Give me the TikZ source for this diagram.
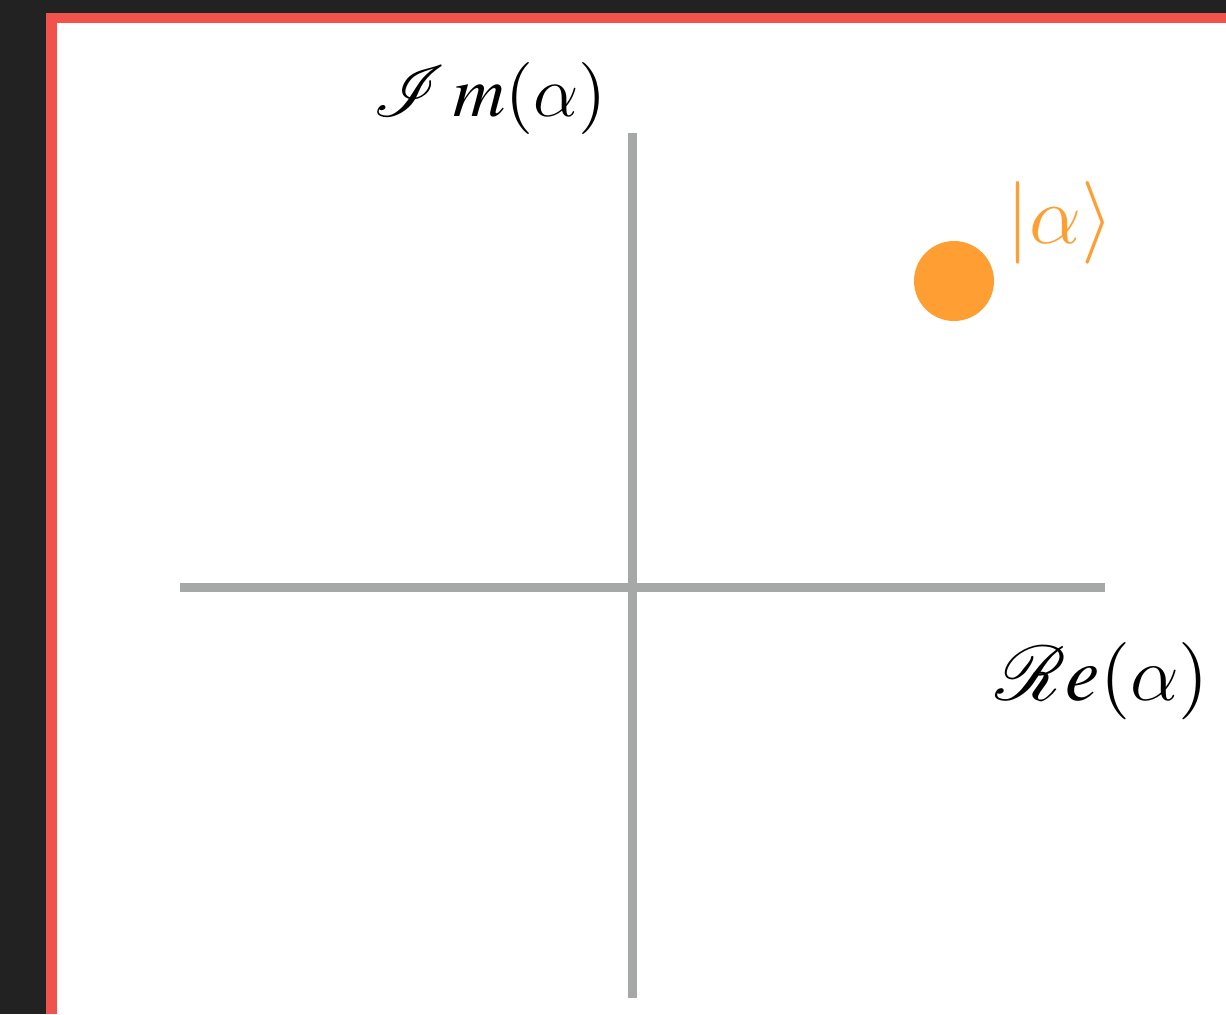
\RequirePackage{fix-cm}
\documentclass[tikz,border=0pt]{standalone}
\usepackage{amsmath}
\usepackage{mathptmx}
\usepackage{xcolor}
\usetikzlibrary{positioning}
\DeclareFontFamily{U}{rsfsbig}{\skewchar\font127 }
\DeclareFontShape{U}{rsfsbig}{m}{n}{<-> rsfs10}{}
\DeclareMathAlphabet{\mathscrbig}{U}{rsfsbig}{m}{n}
\DeclareSymbolFont{cmletters}{OML}{cmm}{m}{it}
\DeclareMathSymbol{\alpha}{\mathord}{cmletters}{"0B}
\definecolor{frameDark}{HTML}{222222}
\definecolor{frameRed}{HTML}{F1524B}
\definecolor{axisGray}{HTML}{A6A8A7}
\definecolor{stateOrange}{HTML}{FF9F33}
\begin{document}
\begin{tikzpicture}[x=0.02cm,y=-0.02cm,
      axis/.style={draw=axisGray,line width=0.18cm},
      lbl/.style={inner sep=0pt,font=\fontsize{41}{49}\selectfont},
      state/.style={circle,fill=stateOrange,minimum size=1.6cm,inner sep=0pt}]
    \useasboundingbox (0,0) rectangle (1226,1014);
    \fill[frameDark] (0,0) rectangle (1226,1014);
    \fill[frameRed] (46,13) rectangle (1226,1014);
    \fill[white] (57,23) rectangle (1226,1014);
    % axes
    \coordinate (imTop) at (632,133);
    \coordinate (imBot) at (632,998);
    \coordinate (reLeft) at (180,587);
    \coordinate (reRight) at (1105,587);
    \draw[axis] (imTop) -- (imBot);
    \draw[axis] (reLeft) -- (reRight);
    \node[lbl] (imlab) at (490,98) {$\mathscrbig{I}\,m(\alpha)$};
    \node[lbl,font=\fontsize{44}{52}\selectfont] (relab) at (1102,681) {$\mathscrbig{R}e(\alpha)$};
    % coherent state
    \node[state] (alpha) at (954,281) {};
    \node[lbl,text=stateOrange,font=\fontsize{47}{56}\selectfont] (ket) at (1060,223) {$\lvert\alpha\rangle$};
  \end{tikzpicture}
\end{document}
